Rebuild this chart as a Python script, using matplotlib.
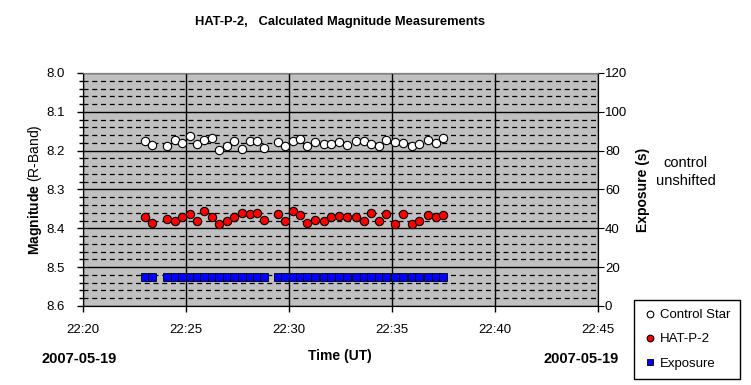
import numpy as np
import pandas as pd
import matplotlib
matplotlib.use("Agg")
import matplotlib.pyplot as plt
import matplotlib.dates as mdates
from matplotlib.ticker import MultipleLocator

plt.rcParams['font.family'] = ['Liberation Sans', 'DejaVu Sans']
plt.rcParams['mathtext.fontset'] = 'custom'
plt.rcParams['mathtext.rm'] = 'Liberation Sans'
plt.rcParams['mathtext.bf'] = 'Liberation Sans:bold'

# observation times (UT, 2007-05-19)
tiempos = ["22:23:00", "22:23:21", "22:24:05", "22:24:28", "22:24:49", "22:25:11",
           "22:25:32", "22:25:52", "22:26:15", "22:26:36", "22:26:59", "22:27:20",
           "22:27:43", "22:28:05", "22:28:26", "22:28:47", "22:29:28", "22:29:49",
           "22:30:11", "22:30:32", "22:30:53", "22:31:15", "22:31:42", "22:32:02",
           "22:32:26", "22:32:49", "22:33:14", "22:33:38", "22:33:59", "22:34:22",
           "22:34:43", "22:35:09", "22:35:32", "22:35:58", "22:36:20", "22:36:44",
           "22:37:07", "22:37:29"]

control = [8.175, 8.185, 8.187, 8.172, 8.180, 8.162, 8.182, 8.172, 8.167, 8.198,
           8.187, 8.175, 8.196, 8.175, 8.175, 8.192, 8.177, 8.187, 8.175, 8.171,
           8.187, 8.177, 8.182, 8.182, 8.178, 8.185, 8.175, 8.175, 8.184, 8.189,
           8.172, 8.177, 8.180, 8.189, 8.184, 8.172, 8.180, 8.167]

hatp2 = [8.370, 8.386, 8.377, 8.380, 8.372, 8.363, 8.380, 8.356, 8.370, 8.389,
         8.380, 8.370, 8.361, 8.363, 8.360, 8.379, 8.363, 8.380, 8.356, 8.365,
         8.386, 8.378, 8.382, 8.370, 8.368, 8.370, 8.370, 8.382, 8.360, 8.382,
         8.363, 8.389, 8.363, 8.389, 8.380, 8.365, 8.370, 8.366]

exposicion = [15] * len(tiempos)

t = pd.to_datetime(["2007-05-19 " + s for s in tiempos])

fig = plt.figure(figsize=(7.51, 3.85), dpi=100)
ax = fig.add_axes([0.1105, 0.2052, 0.6858, 0.6052])
ax.set_facecolor('#c0c0c0')

ax.plot(t, control, linestyle='none', marker='o', markersize=6, markerfacecolor='white',
        markeredgecolor='black', markeredgewidth=0.8, label='Control Star', zorder=3)
ax.plot(t, hatp2, linestyle='none', marker='o', markersize=6, markerfacecolor='red',
        markeredgecolor='black', markeredgewidth=0.8, label='HAT-P-2', zorder=3)

ax.set_ylim(8.6, 8.0)
ax.yaxis.set_major_locator(MultipleLocator(0.1))
ax.yaxis.set_minor_locator(MultipleLocator(0.02))
ax.yaxis.set_major_formatter(matplotlib.ticker.FormatStrFormatter('%.1f'))
ax.set_xlim(pd.Timestamp("2007-05-19 22:20"), pd.Timestamp("2007-05-19 22:45"))
ax.xaxis.set_major_locator(mdates.MinuteLocator(byminute=range(0, 60, 5)))
ax.xaxis.set_major_formatter(mdates.DateFormatter('%H:%M'))

ax.set_axisbelow(True)
ax.grid(True, which='major', axis='both', color='black', linewidth=1, linestyle='-')
ax.grid(True, which='minor', axis='y', color='black', linewidth=0.9, linestyle=(0, (4, 3)))
ax.tick_params(axis='both', which='major', direction='out', length=4, labelsize=9.5, width=1)
ax.tick_params(axis='y', which='minor', direction='out', length=3, width=1)
ax.tick_params(axis='y', which='major', pad=9)
ax.tick_params(axis='x', pad=9)
ax.set_ylabel(r"$\mathbf{Magnitude}$ (R-Band)", fontsize=10, labelpad=2)
ax.spines['top'].set_color('#808080')

ax2 = ax.twinx()
ax2.plot(t, exposicion, linestyle='none', marker='s', markersize=6, markerfacecolor='#0000ff',
         markeredgecolor='black', markeredgewidth=0.6, label='Exposure', zorder=3)
ax2.set_ylim(0, 120)
ax2.yaxis.set_major_locator(MultipleLocator(20))
ax2.tick_params(axis='y', direction='out', length=4, labelsize=9.5, pad=1)
ax2.set_ylabel("Exposure (s)", fontsize=10, fontweight='bold', labelpad=6)
ax2.spines['top'].set_color('#808080')

fig.text(0.453, 0.943, "HAT-P-2,   Calculated Magnitude Measurements", ha='center', va='center',
         fontsize=9.3, fontweight='bold')
fig.text(0.453, 0.075, "Time (UT)", ha='center', va='center', fontsize=10, fontweight='bold')
fig.text(0.105, 0.068, "2007-05-19", ha='center', va='center', fontsize=10.5, fontweight='bold')
fig.text(0.774, 0.068, "2007-05-19", ha='center', va='center', fontsize=10.5, fontweight='bold')
fig.text(0.913, 0.553, "control\nunshifted", ha='center', va='center', fontsize=10.5, linespacing=1.3)

h1, l1 = ax.get_legend_handles_labels()
h2, l2 = ax2.get_legend_handles_labels()
leg = fig.legend(h1 + h2, l1 + l2, loc='upper left', bbox_to_anchor=(0.844, 0.221),
                 fontsize=9.5, frameon=True, fancybox=False, framealpha=1, edgecolor='black',
                 borderpad=0.7, borderaxespad=0, handletextpad=0.3, handlelength=1.0,
                 labelspacing=0.9, markerscale=0.8)
leg.get_frame().set_linewidth(1)

fig.savefig("out.png", dpi=100)
